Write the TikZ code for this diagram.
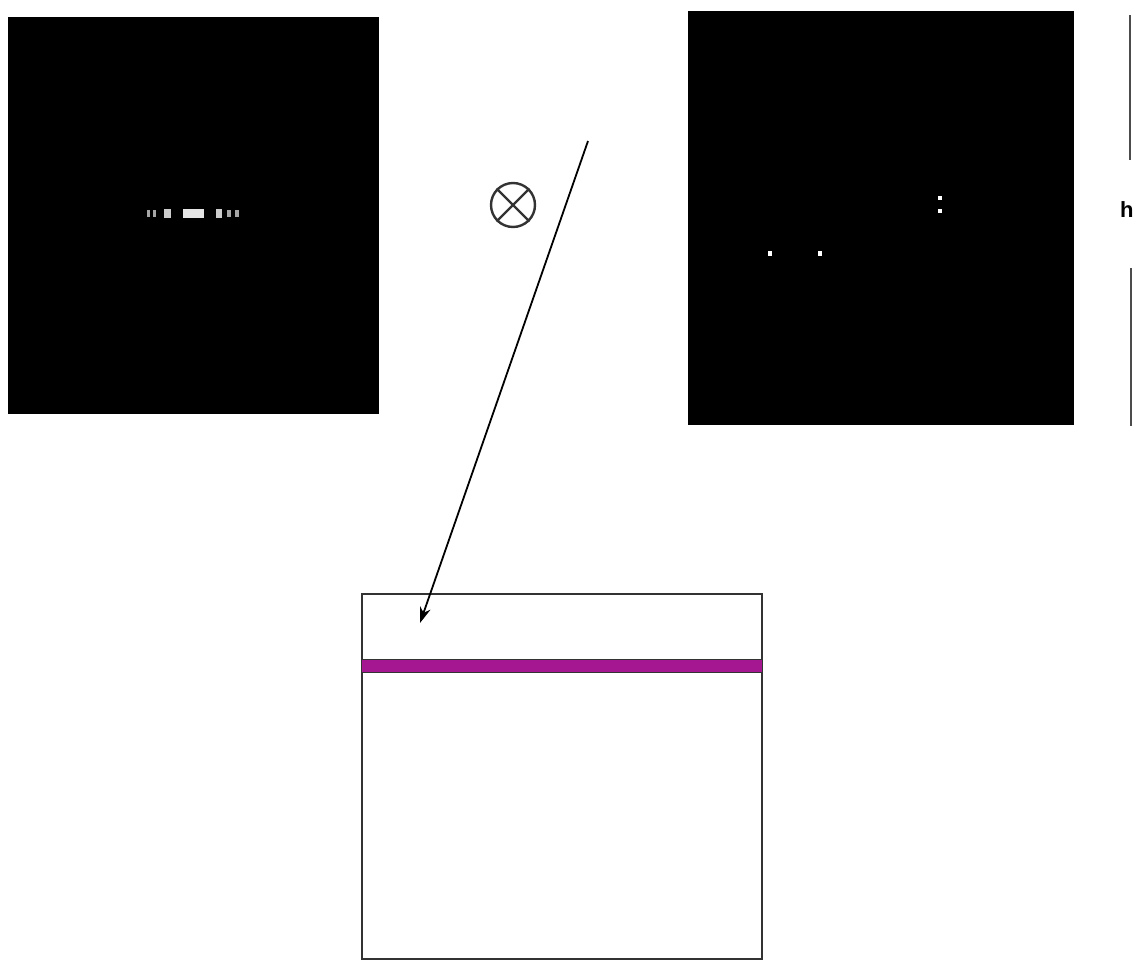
\documentclass[tikz,border=0pt]{standalone}
\usepackage{fontspec}
\usetikzlibrary{arrows.meta}
\definecolor{barpurple}{RGB}{165,22,145}
\begin{document}
\begin{tikzpicture}[x=1pt,y=-1pt,
  blackpanel/.style={fill=black,draw=none},
  spot/.style={fill=white,draw=none},
  dimspot/.style={fill=white!65!black,draw=none},
  frameline/.style={line width=2.4pt,draw=black!80},
  sideline/.style={line width=2.2pt,draw=black!70}]
\useasboundingbox (0,0) rectangle (1141,972);
% left black panel
\node[blackpanel,minimum width=371pt,minimum height=397pt,inner sep=0pt,anchor=north west] (leftpanel) at (8,17) {};
% spots in left panel
\fill[dimspot] (147,210) rectangle (150,217);
\fill[dimspot] (153,210) rectangle (156,217);
\fill[white!80!black] (164,209) rectangle (171,218);
\fill[white!90!black] (183,209) rectangle (204,218);
\fill[white!80!black] (216,209) rectangle (222,218);
\fill[dimspot] (227,210) rectangle (231,217);
\fill[dimspot] (235,210) rectangle (239,217);
% right black panel
\node[blackpanel,minimum width=386pt,minimum height=414pt,inner sep=0pt,anchor=north west] (rightpanel) at (688,11) {};
\fill[spot] (768,251) rectangle (772,256);
\fill[spot] (818,251) rectangle (822,256);
\fill[spot] (938,196) rectangle (942,200);
\fill[spot] (938,209) rectangle (942,213);
% otimes symbol
\node[circle,draw=black!80,line width=2.4pt,minimum size=44pt,inner sep=0pt] (otimes) at (513,205) {};
\draw[black!80,line width=2.4pt] (otimes.north west) -- (otimes.south east);
\draw[black!80,line width=2.4pt] (otimes.north east) -- (otimes.south west);
% bottom box
\node[frameline,minimum width=400pt,minimum height=365pt,inner sep=0pt,anchor=north west] (bottombox) at (361,593) {};
% magenta bar
\node[fill=barpurple,draw=black!80,line width=1.2pt,minimum width=401pt,minimum height=13pt,inner sep=0pt,anchor=north west] (bar) at (361,659) {};
% arrow
\coordinate (arrowstart) at (588,141);
\coordinate (arrowend) at (420,623);
\draw[line width=1.8pt,-{Stealth[length=16pt,width=11pt]}] (arrowstart) -- (arrowend);
% right-side marks
\coordinate (topa) at (1130,15);
\coordinate (topb) at (1130,160);
\coordinate (bota) at (1131,268);
\coordinate (botb) at (1131,426);
\draw[sideline] (topa) -- (topb);
\draw[sideline] (bota) -- (botb);
\node[font=\fontspec{Liberation Sans}\bfseries\fontsize{22}{22}\selectfont,inner sep=0pt,anchor=west] (hlabel) at (1120,210) {h};
\end{tikzpicture}
\end{document}
